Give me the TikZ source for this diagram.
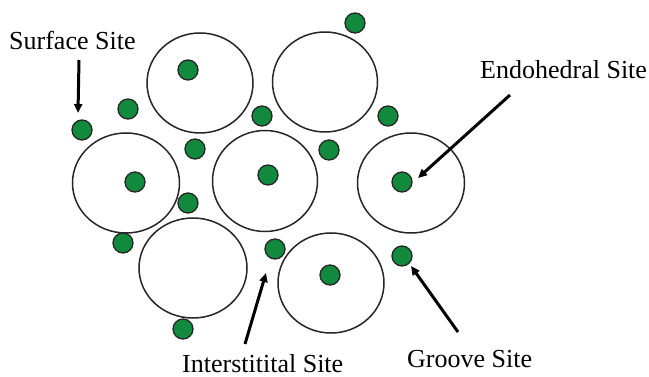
\documentclass[tikz,border=0pt]{standalone}
\usepackage{fontspec}
\setmainfont{Liberation Serif}
\usetikzlibrary{arrows.meta}
\definecolor{dotgreen}{RGB}{18,138,62}
\begin{document}
\begin{tikzpicture}[x=1pt,y=-1pt,
  sphere/.style={draw=black!85,line width=1.5pt,fill=white},
  site/.style={circle,draw=black!85,line width=1.3pt,fill=dotgreen,minimum size=20pt,inner sep=0pt},
  lbl/.style={anchor=base west,inner sep=0pt,font=\fontsize{26}{30}\selectfont},
  pointer/.style={line width=3pt,-{Triangle[length=9pt,width=8pt]}}]
\useasboundingbox (0,0) rectangle (649,377);
% large spheres
\draw[sphere] (200,83) ellipse (53 and 50);
\draw[sphere] (325,82) ellipse (52.5 and 50);
\draw[sphere] (126,183) ellipse (53.5 and 50);
\draw[sphere] (265,181) ellipse (52.5 and 50.5);
\draw[sphere] (411,183) ellipse (53.5 and 50);
\draw[sphere] (193,268) ellipse (54 and 50);
\draw[sphere] (331,283) ellipse (53 and 50);
% small sites
\node[site] (d1) at (188,70) {};
\node[site] (d2) at (355,23) {};
\node[site] (d3) at (128,109) {};
\node[site] (d4) at (82,130) {};
\node[site] (d5) at (262,116) {};
\node[site] (d6) at (195,149) {};
\node[site] (d7) at (388,116) {};
\node[site] (d8) at (329,150) {};
\node[site] (d9) at (135,182) {};
\node[site] (d10) at (268,175) {};
\node[site] (d11) at (402,182) {};
\node[site] (d12) at (188,203) {};
\node[site] (d13) at (123,243) {};
\node[site] (d14) at (275,249) {};
\node[site] (d15) at (402,256) {};
\node[site] (d16) at (330,275) {};
\node[site] (d17) at (183,329) {};
% labels
\node[lbl] (surf) at (9,50) {Surface Site};
\node[lbl] (endo) at (480,79) {Endohedral Site};
\node[lbl] (inter) at (182,372) {Interstitital Site};
\node[lbl] (groove) at (407,367) {Groove Site};
% arrows
\coordinate (s0) at (79,60); \coordinate (s1) at (78,113);
\coordinate (e0) at (510,95); \coordinate (e1) at (418,178);
\coordinate (i0) at (245,344); \coordinate (i1) at (266,273);
\coordinate (g0) at (458,332); \coordinate (g1) at (411,266);
\draw[pointer] (s0) -- (s1);
\draw[pointer] (e0) -- (e1);
\draw[pointer] (i0) -- (i1);
\draw[pointer] (g0) -- (g1);
\end{tikzpicture}
\end{document}
